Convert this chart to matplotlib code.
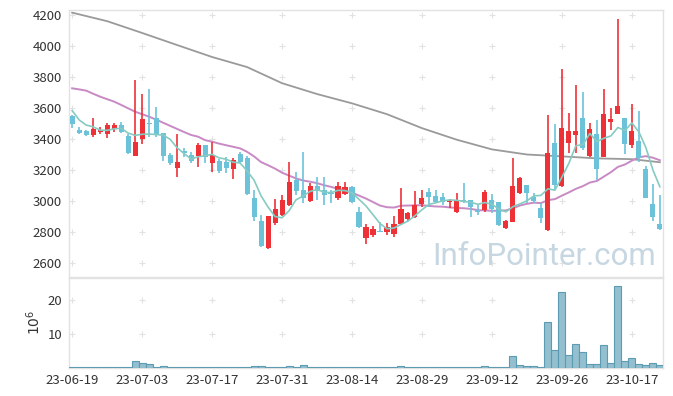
import numpy as np
import pandas as pd
import matplotlib
matplotlib.use("Agg")
import matplotlib.pyplot as plt

plt.rcParams['font.family'] = ['Noto Sans CJK KR', 'DejaVu Sans']

# ---- 데이터 ----
dates = ['23-06-19', '23-06-20', '23-06-21', '23-06-22', '23-06-23', '23-06-26', '23-06-27', '23-06-28', '23-06-29', '23-06-30',
         '23-07-03', '23-07-04', '23-07-05', '23-07-06', '23-07-07', '23-07-10', '23-07-11', '23-07-12', '23-07-13', '23-07-14',
         '23-07-17', '23-07-18', '23-07-19', '23-07-20', '23-07-21', '23-07-24', '23-07-25', '23-07-26', '23-07-27', '23-07-28',
         '23-07-31', '23-08-01', '23-08-02', '23-08-03', '23-08-04', '23-08-07', '23-08-08', '23-08-09', '23-08-10', '23-08-11',
         '23-08-14', '23-08-16', '23-08-17', '23-08-18', '23-08-21', '23-08-22', '23-08-23', '23-08-24', '23-08-25', '23-08-28',
         '23-08-29', '23-08-30', '23-08-31', '23-09-01', '23-09-04', '23-09-05', '23-09-06', '23-09-07', '23-09-08', '23-09-11',
         '23-09-12', '23-09-13', '23-09-14', '23-09-15', '23-09-18', '23-09-19', '23-09-20', '23-09-21', '23-09-22', '23-09-25',
         '23-09-26', '23-09-27', '23-10-04', '23-10-05', '23-10-06', '23-10-10', '23-10-11', '23-10-12', '23-10-13', '23-10-16',
         '23-10-17', '23-10-18', '23-10-19', '23-10-20', '23-10-23']

opens = [3548, 3458, 3452, 3428, 3445, 3430, 3462, 3490, 3419, 3292,
         3398, 3505, 3533, 3441, 3297, 3215, 3320, 3294, 3290, 3361,
         3247, 3258, 3254, 3206, 3303, 3275, 3017, 2871, 2695, 2856,
         2910, 2974, 3135, 3071, 3002, 3097, 3071, 3053, 3021, 3045,
         3092, 2931, 2759, 2781, 2806, 2798, 2787, 2850, 2882, 2899,
         2979, 3056, 3032, 3024, 2995, 2931, 3006, 3006, 2942, 2940,
         3006, 2995, 2824, 2866, 3049, 3103, 3028, 2953, 2813, 3372,
         3097, 3376, 3426, 3533, 3290, 3432, 3286, 3512, 3559, 3537,
         3361, 3387, 3206, 2981, 2852]
highs = [3555, 3475, 3458, 3533, 3479, 3505, 3501, 3512, 3430, 3781,
         3690, 3721, 3608, 3441, 3308, 3430, 3340, 3318, 3372, 3361,
         3383, 3270, 3286, 3275, 3318, 3290, 3071, 2910, 2905, 3011,
         3039, 3250, 3185, 3314, 3114, 3157, 3157, 3071, 3125, 3125,
         3100, 2959, 2852, 2839, 2866, 2860, 2903, 3082, 2931, 3067,
         3071, 3082, 3071, 3049, 3011, 3049, 3114, 3006, 2974, 3071,
         3045, 2995, 2880, 3275, 3157, 3103, 3049, 2985, 3555, 3497,
         3850, 3566, 3748, 3705, 3501, 3523, 3721, 3598, 4172, 3537,
         3624, 3583, 3226, 3110, 3039]
lows = [3471, 3432, 3420, 3415, 3432, 3404, 3447, 3441, 3305, 3292,
        3368, 3415, 3415, 3260, 3232, 3157, 3286, 3243, 3221, 3243,
        3189, 3180, 3179, 3140, 3243, 3040, 2873, 2701, 2690, 2845,
        2903, 2968, 3039, 2985, 2995, 3006, 2974, 2985, 3006, 3039,
        2990, 2824, 2723, 2770, 2798, 2781, 2766, 2845, 2873, 2888,
        2963, 2963, 2985, 2974, 2953, 2921, 2990, 2899, 2910, 2931,
        2921, 2840, 2820, 2866, 3045, 2985, 2989, 2856, 2808, 3071,
        3092, 3312, 3308, 3329, 3286, 3135, 3282, 3458, 3559, 3303,
        3340, 3254, 3017, 2873, 2813]
closes = [3495, 3441, 3426, 3465, 3458, 3490, 3488, 3447, 3308, 3383,
          3527, 3495, 3432, 3290, 3247, 3254, 3308, 3256, 3361, 3282,
          3297, 3195, 3215, 3265, 3254, 3045, 2895, 2710, 2903, 2946,
          3006, 3121, 3064, 3021, 3097, 3067, 3039, 3045, 3097, 3088,
          2995, 2830, 2830, 2817, 2800, 2830, 2852, 2946, 2925, 2974,
          3021, 3028, 2995, 2992, 3000, 3006, 2995, 2963, 2931, 3056,
          2948, 2845, 2871, 3097, 3146, 3049, 3002, 2888, 3308, 3103,
          3469, 3452, 3452, 3340, 3465, 3206, 3561, 3527, 3613, 3366,
          3450, 3275, 3021, 2895, 2819]

# 거래량 (백만 주)
volumes = [0.02, 0.02, 0.02, 0.02, 0.02, 0.02, 0.02, 0.02, 0.02, 2.0,
           1.3, 1.0, 0.02, 0.3, 0.02, 0.02, 0.02, 0.02, 0.02, 0.02,
           0.02, 0.02, 0.02, 0.02, 0.02, 0.02, 0.3, 0.3, 0.02, 0.02,
           0.02, 0.3, 0.02, 0.6, 0.02, 0.02, 0.02, 0.02, 0.02, 0.02,
           0.02, 0.02, 0.02, 0.02, 0.02, 0.02, 0.02, 0.4, 0.02, 0.02,
           0.02, 0.02, 0.02, 0.02, 0.02, 0.02, 0.02, 0.02, 0.02, 0.3,
           0.02, 0.02, 0.02, 3.4, 0.7, 0.4, 0.4, 0.1, 13.4, 5.2,
           22.3, 3.7, 7.1, 4.5, 1.0, 1.0, 6.8, 1.3, 24.2, 2.0,
           2.7, 1.0, 0.7, 1.3, 0.6]

# 이평선: 앞부분(이전 데이터가 필요한 구간)은 그림에서 읽음
ma5_head = [3583, 3523, 3490, 3479]
ma20_head = [3727, 3720, 3712, 3692, 3673, 3657, 3641, 3620, 3598, 3576,
             3560, 3544, 3525, 3505, 3485, 3465, 3445, 3426, 3415]
ma120_idx = [0, 5, 10, 15, 20, 25, 30, 35, 40, 45, 50, 55, 60, 65, 70, 75, 80, 84]
ma120_val = [4215, 4160, 4084, 4006, 3929, 3864, 3760, 3690, 3630, 3560,
             3470, 3395, 3333, 3300, 3288, 3275, 3270, 3250]

# ---- 색상 ----
UP = '#ee3137'
DOWN = '#6cc2d9'
GRID = '#e2e2e2'

x = np.arange(len(dates))
o = np.array(opens, float)
c = np.array(closes, float)
up = c >= o
col = np.where(up, UP, DOWN)

ma5 = pd.Series(c).rolling(5).mean().to_numpy()
ma5[:4] = ma5_head
ma20 = pd.Series(c).rolling(20).mean().to_numpy()
ma20[:19] = ma20_head

fig = plt.figure(figsize=(6.73, 3.96), dpi=100)
W, H = 673.0, 396.0
ax = fig.add_axes([69 / W, 1 - 277 / H, (663 - 69) / W, (277 - 10) / H])
axv = fig.add_axes([69 / W, 1 - 367.5 / H, (663 - 69) / W, (367.5 - 278) / H], sharex=ax)

# 캔들
body_lo = np.minimum(o, c)
body_h = np.maximum(np.abs(c - o), 5)
ax.vlines(x, lows, highs, color=col, lw=1.2, zorder=3)
ax.bar(x, body_h, bottom=body_lo, width=0.72, color=col, linewidth=0, zorder=4)

# 이동평균선
ax.plot(ma120_idx, ma120_val, color='#9a9a9a', lw=1.3, zorder=2)
ax.plot(x, ma20, color='#c88ac4', lw=1.4, zorder=2)
ax.plot(x, ma5, color='#86cbc2', lw=1.2, zorder=5)

# 거래량
axv.bar(x, volumes, width=1.0, color='#93bfcf', edgecolor='#5d9bb2', linewidth=0.8, zorder=3)

price_ticks = [2600, 2800, 3000, 3200, 3400, 3600, 3800, 4000, 4200]
vol_ticks = [10, 20]
xt = list(range(0, len(dates), 10))

ax.set_xlim(-0.45, 84.45)
ax.set_ylim(2510, 4232)
axv.set_ylim(0, 26.6)
ax.set_yticks(price_ticks)
axv.set_yticks(vol_ticks)
axv.set_xticks(xt)
axv.set_xticklabels([dates[i] for i in xt])
plt.setp(ax.get_xticklabels(), visible=False)

# 격자 대신 작은 + 표시
for a, yt in ((ax, price_ticks), (axv, vol_ticks)):
    gx, gy = np.meshgrid(xt, yt)
    a.scatter(gx.ravel(), gy.ravel(), marker='+', s=20, color=GRID, linewidths=0.8, zorder=0)
    a.tick_params(length=0, labelsize=9.5, colors='#333333', pad=5)
    for s in a.spines.values():
        s.set_color('#e2e2e2')
        s.set_linewidth(1.0)

axv.set_ylabel('$10^6$', fontsize=10, color='#333333', labelpad=3)

ax.text(0.80, 0.078, 'InfoPointer.com', transform=ax.transAxes, ha='center', va='center',
        fontsize=22.5, color='#c7d7e2', family='Roboto', zorder=1)

fig.savefig('out.png', dpi=100)
